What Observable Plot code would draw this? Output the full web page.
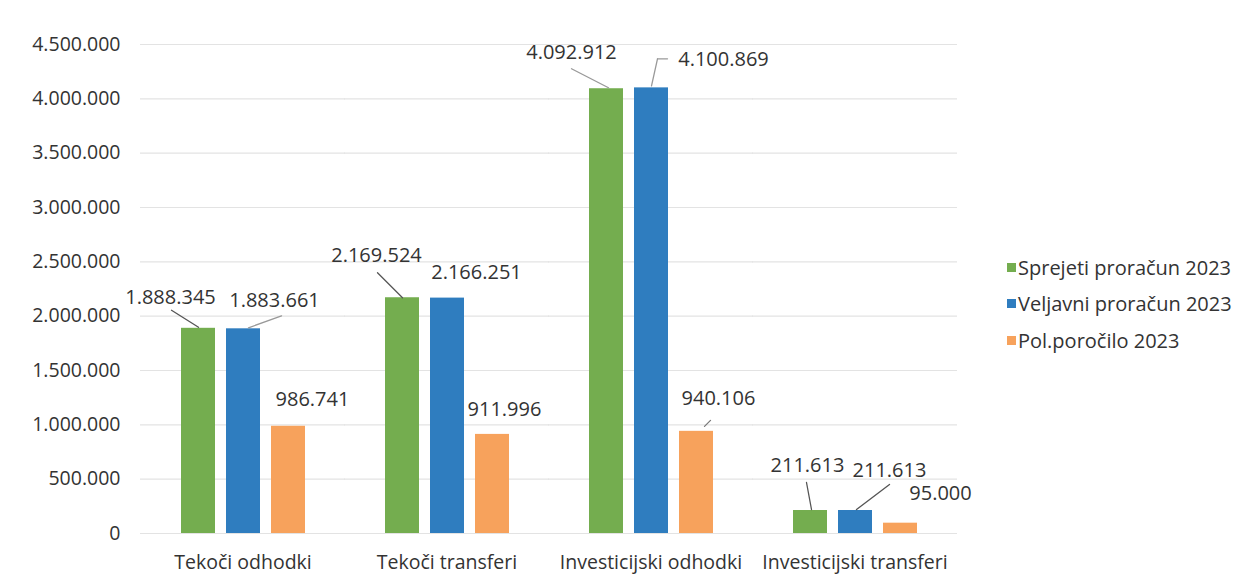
<!DOCTYPE html>
<html><head><meta charset="utf-8">
<script src="https://cdn.jsdelivr.net/npm/d3@7"></script>
<script src="https://cdn.jsdelivr.net/npm/@observablehq/plot@0.6"></script>
<style>
body{margin:0;background:#fff;font-family:"Open Sans",sans-serif;}
#wrap{position:relative;width:1250px;height:584px;overflow:hidden;}
#legend{position:absolute;left:1007px;top:249px;}
.item{display:flex;align-items:center;height:36.5px;font-size:20px;color:#333;white-space:nowrap;}
.sw{width:9px;height:9px;margin-right:2px;flex:none;}
</style></head><body>
<div id="wrap"><div id="chart"></div><div id="legend"></div></div>
<script>
// ---- data ----
const categories = ["Tekoči odhodki", "Tekoči transferi", "Investicijski odhodki", "Investicijski transferi"];
const seriesNames = ["Sprejeti proračun 2023", "Veljavni proračun 2023", "Pol.poročilo 2023"];
const sprejeti = [1888345, 2169524, 4092912, 211613];
const veljavni = [1883661, 2166251, 4100869, 211613];
const polporocilo = [986741, 911996, 940106, 95000];
const yTicks = [0, 500000, 1000000, 1500000, 2000000, 2500000, 3000000, 3500000, 4000000, 4500000];
const colors = ["#74ad4f", "#2f7dbf", "#f7a25c"];

// ---- annotation layout (pixel nudges of value labels, relative to bar top) ----
const labelNudge = [
  [[-28, -31], [31, -28], [24, -27]],
  [[-26, -42], [29, -26], [12, -25]],
  [[-35, -36], [72, -28], [22, -33]],
  [[-3, -45], [34, -40], [40, -30]]
];
// leader lines: [category, series, stroke, points relative to bar top]
const leaderLines = [
  [0, 0, "#555", [[0, -1], [-27, -18]]],
  [0, 1, "#999", [[5, -1], [38, -13]]],
  [1, 0, "#555", [[0, 0], [-25, -25]]],
  [2, 0, "#999", [[2, -1], [-35, -20]]],
  [2, 1, "#999", [[0, -2], [6, -29], [16, -29]]],
  [2, 2, "#777", [[8, -5], [14, -11]]],
  [3, 0, "#555", [[1, -1], [-4, -28]]],
  [3, 1, "#555", [[1, -1], [34, -26]]]
];

const seriesValues = [sprejeti, veljavni, polporocilo];
const table = [];
categories.forEach((c, i) => seriesNames.forEach((s, j) => {
  table.push({category: c, series: s, value: seriesValues[j][i], ci: i, si: j});
}));

const loc = d3.formatLocale({decimal: ",", thousands: ".", grouping: [3], currency: ["", ""]});
const fmt = loc.format(",d");

const labelMarks = table.map(d => Plot.text([d], {
  fx: "category", x: "series", y: "value", text: d => fmt(d.value),
  dx: labelNudge[d.ci][d.si][0], dy: labelNudge[d.ci][d.si][1],
  fill: "#333", fontSize: 20
}));

const lineShape = {draw(context, l) { context.moveTo(0, 0); context.lineTo(0, -l); }};
const leaderMarks = [];
for (const [ci, si, stroke, pts] of leaderLines) {
  const d = table.find(t => t.ci === ci && t.si === si);
  for (let k = 0; k + 1 < pts.length; k++) {
    const [x0, y0] = pts[k], [x1, y1] = pts[k + 1];
    const len = Math.hypot(x1 - x0, y1 - y0);
    const ang = Math.atan2(x1 - x0, -(y1 - y0)) * 180 / Math.PI;
    leaderMarks.push(Plot.vector([d], {
      fx: "category", x: "series", y: "value", length: len, rotate: ang,
      anchor: "start", shape: lineShape, dx: x0, dy: y0,
      stroke, strokeWidth: 1.3
    }));
  }
}

const chart = Plot.plot({
  width: 1000,
  height: 584,
  marginLeft: 140,
  marginRight: 44,
  marginTop: 44,
  marginBottom: 51,
  style: {fontFamily: "Open Sans, sans-serif", fontSize: "19.5px", color: "#333", background: "#fff"},
  fx: {domain: categories, paddingInner: 0.33, paddingOuter: 0.165, label: null, tickSize: 0, tickPadding: 22, axis: "bottom", fontSize: 18},
  x: {domain: seriesNames, paddingInner: 0.253, paddingOuter: 0.128, axis: null},
  y: {domain: [0, 4500000], ticks: yTicks, tickFormat: fmt, tickSize: 0, tickPadding: 54, label: null},
  color: {domain: seriesNames, range: colors},
  marks: [
    Plot.ruleY(yTicks, {stroke: "#e3e3e3", strokeWidth: 1.2, insetLeft: -34, insetRight: -34}),
    Plot.barY(table, {fx: "category", x: "series", y: "value", fill: "series"}),
    ...labelMarks,
    ...leaderMarks
  ]
});
document.getElementById("chart").appendChild(chart);

const legend = document.getElementById("legend");
seriesNames.forEach((s, i) => {
  const item = document.createElement("div");
  item.className = "item";
  const sw = document.createElement("span");
  sw.className = "sw";
  sw.style.background = colors[i];
  const t = document.createElement("span");
  t.textContent = s;
  item.appendChild(sw); item.appendChild(t);
  legend.appendChild(item);
});
</script>
</body></html>
